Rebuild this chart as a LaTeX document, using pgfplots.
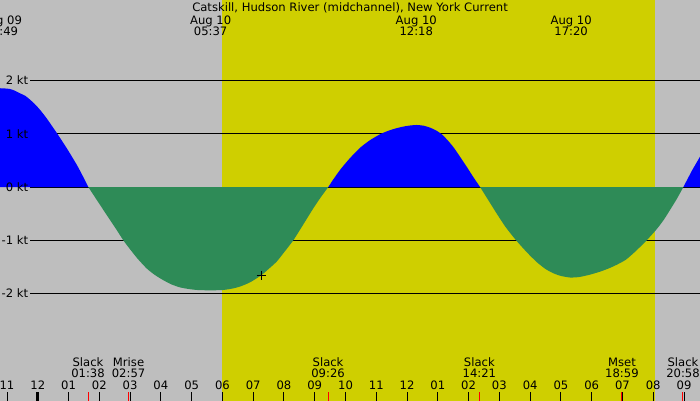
\documentclass[border=0pt]{standalone}
\usepackage{fontspec}
\setmainfont{DejaVu Sans}
\usepackage{pgfplots}
\pgfplotsset{compat=1.18}

\definecolor{bggray}{RGB}{190,190,190}
\definecolor{daylight}{RGB}{207,207,0}
\definecolor{ebbgreen}{RGB}{46,139,87}
\definecolor{floodblue}{RGB}{0,0,255}

\begin{document}
\begin{tikzpicture}[every node/.style={font=\fontsize{11.6}{12}\selectfont, inner sep=0pt}]
\begin{axis}[scale only axis, width=700pt, height=400pt,
  xmin=-1.2275, xmax=21.52, ymin=-4, ymax=3.512,
  hide axis, clip=true]
% background: night gray, daylight yellow
\fill[bggray] (axis cs:-2,-5) rectangle (axis cs:23,5);
\fill[daylight] (axis cs:5.983,-5) rectangle (axis cs:20.05,5);
% knot lines
\pgfplotsinvokeforeach{-2,-1,0,1,2}{
  \draw[black, line width=1pt] (axis cs:-0.2515,#1) -- (axis cs:22,#1);
}
% flood (positive) and ebb (negative) current, hours after Aug 10 00:00
\addplot[fill=floodblue, draw=none, smooth, tension=0.4] coordinates {
  (-1.3,0) (-1.3,1.855) (-1.2275,1.855) (-1.05,1.85) (-0.9025,1.84) (-0.75,1.81)
  (-0.5775,1.76) (-0.4,1.71) (-0.2525,1.64) (-0.1,1.56) (0.0725,1.45) (0.25,1.32)
  (0.3975,1.20) (0.635,1.0) (0.94,0.73) (1.265,0.42) (1.45,0.22) (1.642,0)};
\addplot[fill=ebbgreen, draw=none, smooth, tension=0.4] coordinates {
  (1.642,0) (1.8,-0.14) (2.0,-0.315) (2.25,-0.535) (2.5,-0.75) (2.78,-1.0)
  (3.0,-1.17) (3.25,-1.35) (3.54,-1.53) (3.8,-1.65) (4.08,-1.75) (4.35,-1.83)
  (4.62,-1.885) (4.9,-1.915) (5.2,-1.935) (5.6,-1.94) (6.0,-1.935) (6.3,-1.91)
  (6.57,-1.87) (6.9,-1.79) (7.255,-1.66) (7.5,-1.54) (7.765,-1.40) (8.0,-1.23)
  (8.305,-1.0) (8.6,-0.73) (8.955,-0.40) (9.2,-0.19) (9.442,0)};
\addplot[fill=floodblue, draw=none, smooth, tension=0.4] coordinates {
  (9.442,0) (9.6,0.14) (9.822,0.32) (10.05,0.48) (10.255,0.61) (10.5,0.75)
  (10.797,0.88) (11.122,0.99) (11.34,1.045) (11.6,1.095) (11.88,1.135) (12.1,1.155)
  (12.315,1.165) (12.55,1.15) (12.747,1.115) (12.95,1.06) (13.128,0.99) (13.3,0.89)
  (13.505,0.75) (13.72,0.57) (13.94,0.38) (14.15,0.19) (14.373,0)};
\addplot[fill=ebbgreen, draw=none, smooth, tension=0.4] coordinates {
  (14.373,0) (14.6,-0.21) (14.915,-0.50) (15.2,-0.75) (15.542,-1.0) (15.9,-1.23)
  (16.215,-1.41) (16.5,-1.54) (16.755,-1.62) (17.0,-1.67) (17.3,-1.70) (17.6,-1.69)
  (17.95,-1.645) (18.27,-1.59) (18.55,-1.53) (18.815,-1.46) (19.1,-1.37)
  (19.355,-1.245) (19.6,-1.11) (19.79,-1.0) (20.115,-0.79) (20.35,-0.61)
  (20.547,-0.43) (20.77,-0.22) (20.98,0)};
\addplot[fill=floodblue, draw=none] coordinates {
  (20.98,0) (21.25,0.30) (21.52,0.57) (21.6,0.65) (21.6,0)};
% current time marker
\addplot[only marks, mark=+, mark size=4.5pt, black, line width=0.8pt] coordinates {(7.255,-1.66)};
% y labels
\node[anchor=east] at (axis cs:-0.3075,2) {2 kt};
\node[anchor=east] at (axis cs:-0.3075,1) {1 kt};
\node[anchor=east] at (axis cs:-0.3075,0) {0 kt};
\node[anchor=east] at (axis cs:-0.3075,-1) {-1 kt};
\node[anchor=east] at (axis cs:-0.3075,-2) {-2 kt};
% title and max current times
\node[anchor=base] at (axis cs:10.147,3.292) {Catskill, Hudson River (midchannel), New York Current};
\node[anchor=base] at (axis cs:-1.183,3.061) {Aug 09};
\node[anchor=base] at (axis cs:-1.183,2.836) {22:49};
\node[anchor=base] at (axis cs:5.617,3.061) {Aug 10};
\node[anchor=base] at (axis cs:5.617,2.836) {05:37};
\node[anchor=base] at (axis cs:12.3,3.061) {Aug 10};
\node[anchor=base] at (axis cs:12.3,2.836) {12:18};
\node[anchor=base] at (axis cs:17.333,3.061) {Aug 10};
\node[anchor=base] at (axis cs:17.333,2.836) {17:20};
% hour ticks
\pgfplotsinvokeforeach{-1,1,2,3,4,5,6,7,8,9,10,11,12,13,14,15,16,17,18,19,20,21}{
  \draw[black, line width=1pt] (axis cs:#1,-4.1) -- (axis cs:#1,-3.85);
}
\draw[black, line width=3pt] (axis cs:0,-4.1) -- (axis cs:0,-3.85);
% events: slack, moonrise, moonset
\pgfplotsinvokeforeach{1.633,2.95,9.433,14.35,18.983,20.967}{
  \draw[red, line width=1pt] (axis cs:#1,-4.1) -- (axis cs:#1,-3.85);
}
\node[anchor=base] at (axis cs:1.633,-3.375) {Slack};
\node[anchor=base] at (axis cs:1.633,-3.582) {01:38};
\node[anchor=base] at (axis cs:2.95,-3.375) {Mrise};
\node[anchor=base] at (axis cs:2.95,-3.582) {02:57};
\node[anchor=base] at (axis cs:9.433,-3.375) {Slack};
\node[anchor=base] at (axis cs:9.433,-3.582) {09:26};
\node[anchor=base] at (axis cs:14.35,-3.375) {Slack};
\node[anchor=base] at (axis cs:14.35,-3.582) {14:21};
\node[anchor=base] at (axis cs:18.983,-3.375) {Mset};
\node[anchor=base] at (axis cs:18.983,-3.582) {18:59};
\node[anchor=base] at (axis cs:20.967,-3.375) {Slack};
\node[anchor=base] at (axis cs:20.967,-3.582) {20:58};
% hour labels
\node[anchor=base] at (axis cs:-1,-3.812) {11};
\node[anchor=base] at (axis cs:0,-3.812) {12};
\node[anchor=base] at (axis cs:1,-3.812) {01};
\node[anchor=base] at (axis cs:2,-3.812) {02};
\node[anchor=base] at (axis cs:3,-3.812) {03};
\node[anchor=base] at (axis cs:4,-3.812) {04};
\node[anchor=base] at (axis cs:5,-3.812) {05};
\node[anchor=base] at (axis cs:6,-3.812) {06};
\node[anchor=base] at (axis cs:7,-3.812) {07};
\node[anchor=base] at (axis cs:8,-3.812) {08};
\node[anchor=base] at (axis cs:9,-3.812) {09};
\node[anchor=base] at (axis cs:10,-3.812) {10};
\node[anchor=base] at (axis cs:11,-3.812) {11};
\node[anchor=base] at (axis cs:12,-3.812) {12};
\node[anchor=base] at (axis cs:13,-3.812) {01};
\node[anchor=base] at (axis cs:14,-3.812) {02};
\node[anchor=base] at (axis cs:15,-3.812) {03};
\node[anchor=base] at (axis cs:16,-3.812) {04};
\node[anchor=base] at (axis cs:17,-3.812) {05};
\node[anchor=base] at (axis cs:18,-3.812) {06};
\node[anchor=base] at (axis cs:19,-3.812) {07};
\node[anchor=base] at (axis cs:20,-3.812) {08};
\node[anchor=base] at (axis cs:21,-3.812) {09};
\end{axis}
\pgfresetboundingbox
\useasboundingbox (current axis.south west) rectangle (current axis.north east);
\end{tikzpicture}
\end{document}
